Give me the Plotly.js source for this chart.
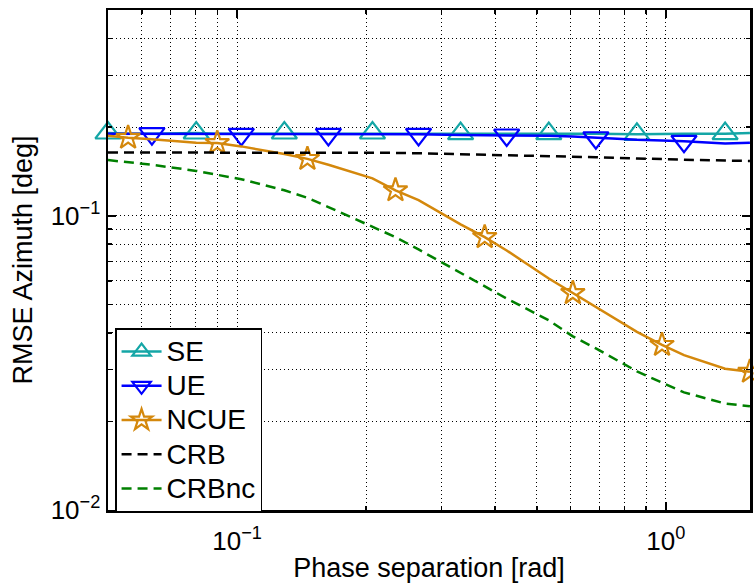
<!DOCTYPE html>
<html><head><meta charset="utf-8">
<script src="https://cdn.plot.ly/plotly-3.0.1.min.js"></script>
<style>html,body{margin:0;padding:0;background:#fff}#chart{width:754px;height:588px}</style>
</head><body><div id="chart"></div>
<script>
// Phase separation [rad] sample points (log spaced)
const phase = [0.05, 0.0557, 0.0633, 0.0803, 0.0899, 0.1023, 0.1289, 0.1459, 0.1633, 0.2069, 0.2341, 0.265,
               0.3321, 0.378, 0.4254, 0.5333, 0.6068, 0.6868, 0.8561, 0.9795, 1.1024, 1.3746, 1.5707];
// RMSE Azimuth [deg]
const seRmse   = [0.191, 0.190, 0.190, 0.191, 0.190, 0.190, 0.191, 0.190, 0.190, 0.191, 0.190, 0.190,
                  0.190, 0.190, 0.190, 0.190, 0.190, 0.190, 0.189, 0.190, 0.190, 0.190, 0.191];
const ueRmse   = [0.190, 0.190, 0.190, 0.189, 0.190, 0.189, 0.190, 0.189, 0.189, 0.189, 0.189, 0.189,
                  0.188, 0.188, 0.188, 0.187, 0.186, 0.184, 0.181, 0.180, 0.179, 0.176, 0.177];
const ncueRmse = [0.187, 0.184, 0.182, 0.177, 0.1766, 0.172, 0.162, 0.156, 0.149, 0.134, 0.122, 0.113,
                  0.0935, 0.0846, 0.0762, 0.0612, 0.0546, 0.049, 0.0403, 0.0364, 0.0336, 0.0302, 0.0295];
const crb      = [0.164, 0.164, 0.164, 0.164, 0.164, 0.164, 0.164, 0.164, 0.164, 0.1635, 0.1635, 0.163,
                  0.162, 0.1615, 0.161, 0.160, 0.159, 0.158, 0.1565, 0.1555, 0.155, 0.154, 0.1535];
const crbNc    = [0.1545, 0.152, 0.149, 0.142, 0.138, 0.133, 0.122, 0.115, 0.107, 0.092, 0.0846, 0.0768,
                  0.0639, 0.0573, 0.0523, 0.0441, 0.0389, 0.0354, 0.0296, 0.0271, 0.0251, 0.0230, 0.0225];
// which samples carry a marker
const seMarkerIdx   = [0, 3, 6, 9, 12, 15, 18, 21];
const ncueMarkerIdx = [1, 4, 7, 10, 13, 16, 19, 22];
const ueMarkerIdx   = [2, 5, 8, 11, 14, 17, 20];
const seriesNames = ['SE', 'UE', 'NCUE', 'CRB', 'CRBnc'];
// axis ticks
const xTickVals = [0.1, 1];
const xTickText = ['10<sup>−1</sup>', '10<sup>0</sup>'];
const yTickVals = [0.01, 0.1];
const yTickText = ['10<sup>−2</sup>', '10<sup>−1</sup>'];
const xMinorVals = [0.06, 0.07, 0.08, 0.09, 0.2, 0.3, 0.4, 0.5, 0.6, 0.7, 0.8, 0.9];
const yMinorVals = [0.02, 0.03, 0.04, 0.05, 0.06, 0.07, 0.08, 0.09, 0.2, 0.3, 0.4];

const FONT = 'Liberation Sans, Arial, Helvetica, sans-serif';
const pick = (arr, idx) => idx.map(i => arr[i]);
const legendLabel = name => '<span style="font-size:28px">' + name + '</span>';

function marked(name, y, idx, color, symbol, size) {
  const mk = {symbol: symbol, size: size, color: color, line: {color: color, width: 2.2}};
  return [
    {x: phase, y: y, mode: 'lines', type: 'scatter', showlegend: false,
     line: {color: color, width: 2.5}},
    {x: pick(phase, idx), y: pick(y, idx), mode: 'markers', type: 'scatter', showlegend: false,
     cliponaxis: false, marker: mk},
    {x: [null], y: [null], name: legendLabel(name), mode: 'lines+markers', type: 'scatter',
     line: {color: color, width: 2.5}, marker: mk}
  ];
}

const data = [].concat(
  marked(seriesNames[0], seRmse, seMarkerIdx, '#14a6a6', 'triangle-up-open', 22),
  marked(seriesNames[1], ueRmse, ueMarkerIdx, '#0000ff', 'triangle-down-open', 22),
  marked(seriesNames[2], ncueRmse, ncueMarkerIdx, '#d4880c', 'star-open', 18),
  [
    {x: phase, y: crb, name: legendLabel(seriesNames[3]), mode: 'lines', type: 'scatter',
     line: {color: '#000000', width: 2.5, dash: '10px,6px'}},
    {x: phase, y: crbNc, name: legendLabel(seriesNames[4]), mode: 'lines', type: 'scatter',
     line: {color: '#008000', width: 2.5, dash: '10px,6px'}}
  ]
);

const gridStyle = {gridcolor: '#000', gridwidth: 1, griddash: '1px,3px'};
const axisCommon = Object.assign({
  type: 'log', showline: true, linecolor: '#000', linewidth: 2.5, mirror: 'allticks',
  ticks: 'inside', ticklen: 8, tickwidth: 2, tickcolor: '#000', showgrid: true,
  zeroline: false, tickfont: {family: FONT, size: 26, color: '#000'}
}, gridStyle);
const minorCommon = Object.assign({tickmode: 'array', ticks: 'inside', ticklen: 4, tickwidth: 1.5,
  tickcolor: '#000', showgrid: true}, gridStyle);

const layout = {
  width: 754, height: 588,
  margin: {l: 108, r: 4, t: 10, b: 78},
  paper_bgcolor: '#fff', plot_bgcolor: '#fff',
  font: {family: FONT, color: '#000'},
  xaxis: Object.assign({}, axisCommon, {
    range: [Math.log10(0.05), Math.log10(1.5712)],
    tickmode: 'array', tickvals: xTickVals, ticktext: xTickText, ticklabelstandoff: 6,
    minor: Object.assign({}, minorCommon, {tickvals: xMinorVals}),
    title: {text: 'Phase separation [rad]', font: {family: FONT, size: 27, color: '#000'}, standoff: 4}
  }),
  yaxis: Object.assign({}, axisCommon, {
    range: [-2, Math.log10(0.5)],
    tickmode: 'array', tickvals: yTickVals, ticktext: yTickText,
    minor: Object.assign({}, minorCommon, {tickvals: yMinorVals}),
    title: {text: 'RMSE Azimuth [deg]', font: {family: FONT, size: 27, color: '#000'}, standoff: 10}
  }),
  legend: {
    x: 0.011, y: 0.364, xanchor: 'left', yanchor: 'top',
    bgcolor: '#fff', bordercolor: '#000', borderwidth: 1.5,
    font: {family: FONT, size: 24, color: '#000'},
    itemwidth: 40, tracegroupgap: 0
  },
  showlegend: true
};

Plotly.newPlot('chart', data, layout, {displayModeBar: false, staticPlot: true});
</script>
</body></html>
